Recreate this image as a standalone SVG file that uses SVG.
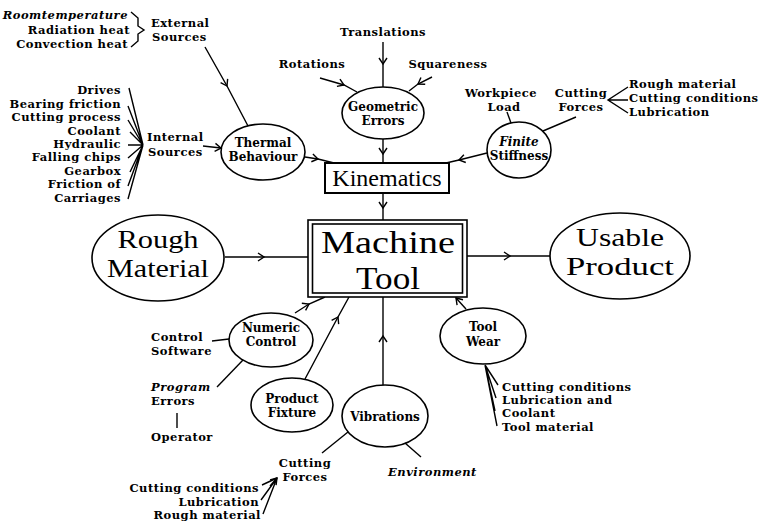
<svg xmlns="http://www.w3.org/2000/svg" width="764" height="524" viewBox="0 0 764 524">
<style>
.bg{fill:#fff}
.t{font-family:"DejaVu Serif","Liberation Serif",serif;font-weight:bold;font-size:11.5px;letter-spacing:0.5px;fill:#000}
.l{font-family:"DejaVu Serif","Liberation Serif",serif;font-weight:bold;font-size:12px;fill:#000;text-anchor:middle}
.i{font-style:italic}
.r{text-anchor:end}
.m{text-anchor:middle}
.big{font-family:"Liberation Serif","DejaVu Serif",serif;font-size:26px;fill:#000;text-anchor:middle}
.mt{font-family:"Liberation Serif","DejaVu Serif",serif;font-size:32px;fill:#000;text-anchor:middle}
.kin{font-family:"Liberation Serif","DejaVu Serif",serif;font-size:24px;fill:#000;text-anchor:middle}
.e{fill:none;stroke:#000;stroke-width:1.6}
.c{fill:none;stroke:#000;stroke-width:1.4}
.a{marker-mid:url(#ah)}
.ae{marker-end:url(#ah)}
</style>
<defs>
<marker id="ah" markerUnits="userSpaceOnUse" orient="auto" style="overflow:visible" markerWidth="10" markerHeight="10">
<path d="M-6,-4 L0,0 L-6,4" fill="none" stroke="#000" stroke-width="1.4"/>
</marker>
</defs>
<rect class="bg" x="0" y="0" width="764" height="524"/>

<g id="connectors">
<path class="c a" d="M205,47 L227,86 L248,126"/>
<path class="c ae" d="M203,146 L221,148"/>
<path class="c a" d="M305,157 L318,159 L334,163"/>
<path class="c a" d="M383,42 L383,64 L383,87"/>
<path class="c a" d="M320,78 L344,85 L357,92"/>
<path class="c a" d="M432,77 L418,84 L409,91"/>
<path class="c a" d="M383,139 L383,154 L383,163"/>
<path class="c a" d="M487,153 L459,160 L446,163"/>
<path class="c" d="M507,112 L511,123"/>
<path class="c" d="M576,117 L543,131"/>
<path class="c" d="M628,87 L608,100 L628,113 M608,100 L628,100"/>
<path class="c a" d="M383,193 L383,208 L383,220"/>
<path class="c a" d="M225,257 L264,257 L308,257"/>
<path class="c a" d="M467,256 L510,256 L550,256"/>
<path class="c a" d="M295,313 L309,304 L325,297"/>
<path class="c a" d="M305,379 L338,317 L349,297"/>
<path class="c a" d="M383,385 L383,336 L383,297"/>
<path class="c ae" d="M466,309 L456,298"/>
<path class="c" d="M348,432 L322,453"/>
<path class="c" d="M405,443 L421,457"/>
<path class="c" d="M262,485 L277,478 M261,500 L277,478 M263,514 L277,478"/>
<path class="c ae" d="M270,486 L277,478"/>
<path class="c" d="M212,341 L229,339"/>
<path class="c" d="M217,387 L243,360"/>
<path class="c" d="M177,413 L177,428"/>
<path class="c" d="M485,365 L498,385 M485,365 L496,398 M485,365 L495,411 M485,365 L497,426"/>
<path class="c" d="M131,12 L138,18 L138,26 L144,30 L138,34 L138,41 L131,47"/>
<path class="c" d="M129,88 L143,145 M128,106 L143,145 M128,120 L143,145 M130,132 L143,145 M128,145 L143,145 M128,158 L143,145 M130,172 L143,145 M128,186 L143,145 M128,199 L143,145"/>
</g>

<g id="n-external">
<text class="t i r" x="128" y="19">Roomtemperature</text>
<text class="t r" x="130" y="34">Radiation heat</text>
<text class="t r" x="128" y="48">Convection heat</text>
<text class="t" x="151" y="27">External</text>
<text class="t" x="152" y="41">Sources</text>
</g>

<g id="n-internal">
<text class="t r" x="121" y="94">Drives</text>
<text class="t r" x="121" y="108">Bearing friction</text>
<text class="t r" x="121" y="121">Cutting process</text>
<text class="t r" x="121" y="135">Coolant</text>
<text class="t r" x="121" y="148">Hydraulic</text>
<text class="t r" x="121" y="161">Falling chips</text>
<text class="t r" x="121" y="175">Gearbox</text>
<text class="t r" x="121" y="188">Friction of</text>
<text class="t r" x="121" y="202">Carriages</text>
<text class="t" x="147" y="141">Internal</text>
<text class="t" x="148" y="156">Sources</text>
</g>

<g id="n-thermal">
<ellipse class="e" cx="263" cy="152" rx="42" ry="28"/>
<text class="l" x="263" y="147">Thermal</text>
<text class="l" x="263" y="161">Behaviour</text>
</g>

<g id="n-geo-inputs">
<text class="t m" x="383" y="36">Translations</text>
<text class="t m" x="312" y="68">Rotations</text>
<text class="t m" x="448" y="68">Squareness</text>
</g>

<g id="n-geometric">
<ellipse class="e" cx="383" cy="113" rx="41" ry="26"/>
<text class="l" x="383" y="111">Geometric</text>
<text class="l" x="383" y="125">Errors</text>
</g>

<g id="n-stiff-inputs">
<text class="t m" x="501" y="97">Workpiece</text>
<text class="t m" x="504" y="111">Load</text>
<text class="t m" x="581" y="97">Cutting</text>
<text class="t m" x="581" y="111">Forces</text>
<text class="t" x="629" y="88">Rough material</text>
<text class="t" x="629" y="102">Cutting conditions</text>
<text class="t" x="629" y="116">Lubrication</text>
</g>

<g id="n-finite">
<ellipse class="e" cx="519" cy="150" rx="32" ry="28"/>
<text class="l i" x="519" y="146">Finite</text>
<text class="l" x="519" y="160">Stiffness</text>
</g>

<g id="n-kinematics">
<rect x="325" y="163" width="124" height="30" fill="#fff" stroke="#000" stroke-width="2"/>
<text class="kin" x="387" y="186">Kinematics</text>
</g>

<g id="n-machine">
<rect x="308" y="220" width="159" height="77" fill="#fff" stroke="#000" stroke-width="1.6"/>
<rect x="312.5" y="224" width="150" height="69" fill="none" stroke="#000" stroke-width="1.6"/>
<text class="mt" x="388" y="253" textLength="134" lengthAdjust="spacingAndGlyphs">Machine</text>
<text class="mt" x="388" y="289" textLength="64" lengthAdjust="spacingAndGlyphs">Tool</text>
</g>

<g id="n-rough">
<ellipse class="e" cx="158" cy="258" rx="66" ry="43"/>
<text class="big" x="158" y="248" textLength="81" lengthAdjust="spacingAndGlyphs">Rough</text>
<text class="big" x="158" y="277" textLength="102" lengthAdjust="spacingAndGlyphs">Material</text>
</g>

<g id="n-usable">
<ellipse class="e" cx="620" cy="256" rx="70" ry="43"/>
<text class="big" x="620" y="246" textLength="88" lengthAdjust="spacingAndGlyphs">Usable</text>
<text class="big" x="620" y="275" textLength="108" lengthAdjust="spacingAndGlyphs">Product</text>
</g>

<g id="n-numeric">
<ellipse class="e" cx="271" cy="340" rx="42" ry="27"/>
<text class="l" x="271" y="332">Numeric</text>
<text class="l" x="271" y="346">Control</text>
</g>

<g id="n-nc-inputs">
<text class="t" x="151" y="341">Control</text>
<text class="t" x="151" y="355">Software</text>
<text class="t i" x="151" y="391">Program</text>
<text class="t" x="151" y="405">Errors</text>
<text class="t" x="151" y="441">Operator</text>
</g>

<g id="n-fixture">
<ellipse class="e" cx="292" cy="405" rx="41" ry="27"/>
<text class="l" x="292" y="403">Product</text>
<text class="l" x="292" y="417">Fixture</text>
</g>

<g id="n-vibrations">
<ellipse class="e" cx="385" cy="416" rx="43" ry="31"/>
<text class="l" x="385" y="421">Vibrations</text>
</g>

<g id="n-vib-inputs">
<text class="t m" x="305" y="467">Cutting</text>
<text class="t m" x="305" y="481">Forces</text>
<text class="t i" x="388" y="476">Environment</text>
<text class="t r" x="259" y="492">Cutting conditions</text>
<text class="t r" x="259" y="506">Lubrication</text>
<text class="t r" x="261" y="519">Rough material</text>
</g>

<g id="n-toolwear">
<ellipse class="e" cx="483" cy="336" rx="43" ry="28"/>
<text class="l" x="483" y="331">Tool</text>
<text class="l" x="483" y="346">Wear</text>
</g>

<g id="n-tw-inputs">
<text class="t" x="502" y="391">Cutting conditions</text>
<text class="t" x="502" y="404">Lubrication and</text>
<text class="t" x="502" y="417">Coolant</text>
<text class="t" x="502" y="431">Tool material</text>
</g>
</svg>
